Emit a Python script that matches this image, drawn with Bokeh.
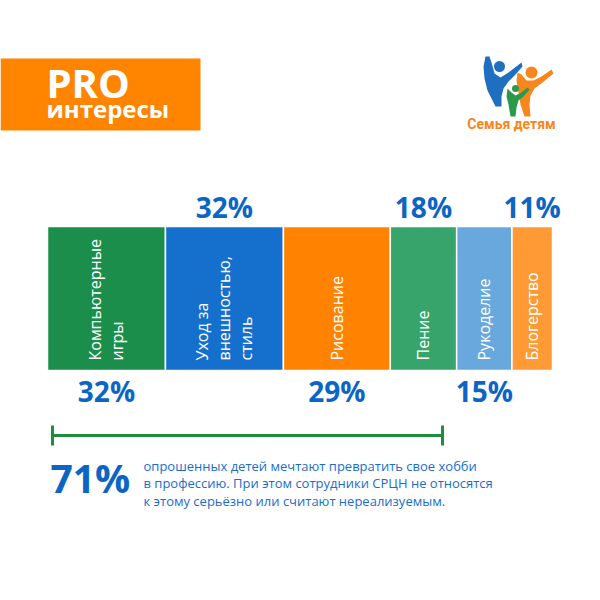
import numpy as np
from bokeh.plotting import figure
from bokeh.models import Range1d
from bokeh.embed import file_html
from bokeh.resources import INLINE
from bokeh.core.properties import value

# ---- data ----
categories = ["Компьютерные\nигры", "Уход за\nвнешностью,\nстиль", "Рисование", "Пение", "Рукоделие", "Блогерство"]
values = [32, 32, 29, 18, 15, 11]
label_side = ["below", "above", "below", "above", "below", "above"]
bar_colors = ["#1a8e4a", "#1470cc", "#ff8300", "#37a46c", "#68a8dc", "#ff9a35"]
headline_value = "71%"
headline_text = ["опрошенных детей мечтают превратить свое хобби",
                 "в профессию. При этом сотрудники СРЦН не относятся",
                 "к этому серьёзно или считают нереализуемым."]
title_lines = ["PRO", "интересы"]
logo_text = "Семья детям"

BLUE_TXT = "#0b65c4"
FONT = value("Open Sans")
W = 584

def Y(y):
    return W - y

def mid(baseline, size, k=0.38):
    # text is drawn with a 'middle' baseline: convert a baseline position to its centre
    return Y(baseline - k * size)

p = figure(width=W, height=W, x_range=Range1d(0, W), y_range=Range1d(0, W),
           output_backend="svg", toolbar_location=None, min_border=0)
p.axis.visible = False
p.grid.visible = False
p.outline_line_color = None
p.background_fill_color = "white"

# ---- banner ----
p.quad(left=[0], right=[200], bottom=[Y(130)], top=[Y(58)], fill_color="#ff8500", line_color=None)
p.text(x=[46], y=[mid(97, 40)], text=[title_lines[0]], text_font=FONT, text_font_style="bold",
       text_font_size="40px", text_color="white", text_baseline="middle", text_align="left")
p.text(x=[46], y=[mid(117, 24)], text=[title_lines[1]], text_font=FONT, text_font_style="bold",
       text_font_size="24px", text_color="white", text_baseline="middle", text_align="left")

# ---- logo (decoration) ----
blue_body = [(489, 56), (485, 56), (483, 66), (484, 78), (487, 90), (492, 100), (495, 106),
             (501, 106), (501, 96), (503, 88), (508, 81), (515, 74), (522, 66), (521, 62),
             (508, 72), (500, 77), (494, 73), (491, 62)]
p.patch([a for a, b in blue_body], [Y(b) for a, b in blue_body], fill_color="#1e6fc0", line_color=None)
p.scatter([499], [Y(66)], size=11, fill_color="#1e6fc0", line_color=None)
or_body = [(517, 72), (516, 80), (518, 92), (520, 104), (524, 116), (530, 116), (529, 104),
           (530, 95), (534, 88), (542, 82), (553, 73), (551, 69), (541, 76), (533, 80),
           (526, 80), (521, 74)]
p.patch([a for a, b in or_body], [Y(b) for a, b in or_body], fill_color="#f7861d", line_color=None)
p.scatter([531], [Y(72)], size=12, fill_color="#f7861d", line_color=None)
gr_body = [(507, 88), (506, 96), (508, 104), (510, 116), (515, 116), (516, 107), (518, 100),
           (523, 96), (529, 89), (527, 87), (521, 92), (515, 95), (511, 92)]
p.patch([a for a, b in gr_body], [Y(b) for a, b in gr_body], fill_color="#2a9a48", line_color=None)
p.scatter([515], [Y(88)], size=7, fill_color="#2a9a48", line_color=None)
p.text(x=[511], y=[mid(128, 14, 0.34)], text=[logo_text], text_font=value("Roboto"), text_font_style="bold",
       text_font_size="14px", text_color="#f7861d", text_baseline="middle", text_align="center")

# ---- bars ----
X0, X1 = 47, 552
BAR_TOP, BAR_BOT = 226, 370
total = float(sum(values))
scale = (X1 - X0) / total
cum = np.concatenate([[0], np.cumsum(values)])
lefts = X0 + cum[:-1] * scale
rights = X0 + cum[1:] * scale
centers = (lefts + rights) / 2

p.quad(left=lefts, right=rights, bottom=Y(BAR_BOT), top=Y(BAR_TOP), fill_color=bar_colors,
       line_color="white", line_width=1.5)

# category labels (rotated)
lx, ly, lt = [], [], []
LINE_GAP = 22
for c, lab in zip(centers, categories):
    lines = lab.split("\n")
    n = len(lines)
    for i, ln in enumerate(lines):
        lx.append(c + (i - (n - 1) / 2) * LINE_GAP)
        ly.append(Y(360))
        lt.append(ln)
p.text(x=lx, y=ly, text=lt, angle=np.pi / 2, text_font=FONT, text_font_size="16px",
       text_color="white", text_align="left", text_baseline="middle")

# percentage labels
ax_, ay_, at_ = [], [], []
for c, v, s in zip(centers, values, label_side):
    ax_.append(c)
    ay_.append(mid(217, 28) if s == "above" else mid(401, 28))
    at_.append(f"{v}%")
p.text(x=ax_, y=ay_, text=at_, text_font=FONT, text_font_style="bold", text_font_size="28px",
       text_color=BLUE_TXT, text_align="center", text_baseline="middle")

# ---- bracket ----
GREEN = "#1f8c3f"
p.line([52, 442], [Y(435), Y(435)], line_color=GREEN, line_width=3)
p.segment(x0=[52, 442], y0=[Y(425), Y(425)], x1=[52, 442], y1=[Y(445), Y(445)],
          line_color=GREEN, line_width=3)

# ---- headline ----
p.text(x=[50], y=[mid(492, 39)], text=[headline_value], text_font=FONT, text_font_style="bold",
       text_font_size="39px", text_color=BLUE_TXT, text_align="left", text_baseline="middle")
p.text(x=[143] * 3, y=[mid(470, 13), mid(487.5, 13), mid(505, 13)], text=headline_text, text_font=FONT,
       text_font_size="13px", text_color="#1a6ec8", text_align="left", text_baseline="middle")

open("out.html", "w").write(file_html(p, INLINE))
